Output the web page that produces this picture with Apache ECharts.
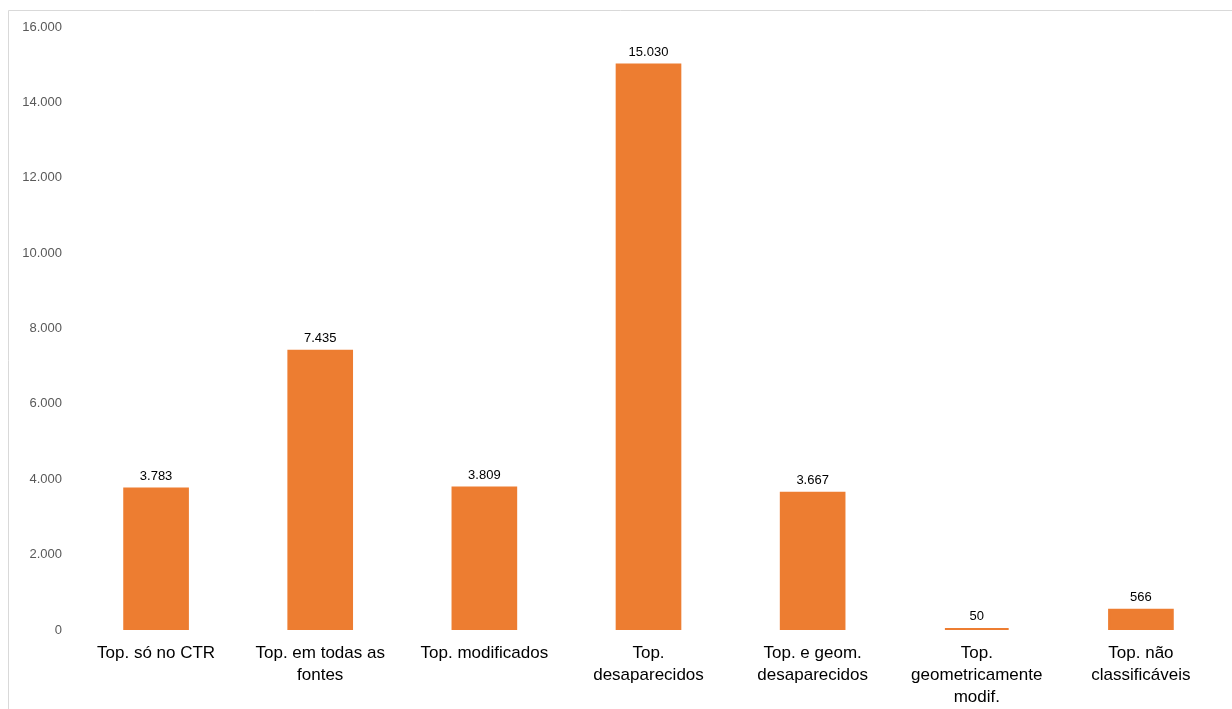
<!DOCTYPE html>
<html>
<head>
    <meta charset="utf-8">
    <title>Topónimos</title>
    <script src="https://cdn.jsdelivr.net/npm/echarts@6/dist/echarts.min.js"></script>
    <style>
        html, body { margin: 0; padding: 0; background: #fff; }
        #chart { width: 1232px; height: 709px; }
    </style>
</head>
<body>
<div id="chart"></div>
<script type="text/javascript">
    // categorias (eixo X)
    var categorias = [
        'Top. só no CTR',
        'Top. em todas as\nfontes',
        'Top. modificados',
        'Top.\ndesaparecidos',
        'Top. e geom.\ndesaparecidos',
        'Top.\ngeometricamente\nmodif.',
        'Top. não\nclassificáveis'
    ];
    // valores
    var valores = [3783, 7435, 3809, 15030, 3667, 50, 566];
    // eixo Y
    var yMin = 0, yMax = 16000, yPasso = 2000;

    function milhares(v) {
        return String(v).replace(/\B(?=(\d{3})+(?!\d))/g, '.');
    }

    var chart = echarts.init(document.getElementById('chart'));
    chart.setOption({
        animation: false,
        textStyle: { fontFamily: 'Liberation Sans, Arial, sans-serif' },
        graphic: [{
            type: 'rect',
            shape: { x: 8.5, y: 10.5, width: 1300, height: 800 },
            style: { fill: 'none', stroke: '#d9d9d9', lineWidth: 1 },
            silent: true
        }],
        grid: { left: 74, right: 9, top: 27, bottom: 79 },
        xAxis: {
            type: 'category',
            data: categorias,
            axisLine: { show: false },
            axisTick: { show: false },
            axisLabel: {
                interval: 0,
                color: '#000',
                fontSize: 17,
                lineHeight: 22,
                margin: 12
            }
        },
        yAxis: {
            type: 'value',
            min: yMin, max: yMax, interval: yPasso,
            axisLine: { show: false },
            axisTick: { show: false },
            splitLine: { show: false },
            axisLabel: {
                color: '#595959',
                fontSize: 13,
                margin: 12,
                formatter: milhares
            }
        },
        series: [{
            type: 'bar',
            data: valores,
            barWidth: '40%',
            itemStyle: { color: '#ED7D31', borderColor: '#ED7D31', borderWidth: 2 },
            label: {
                show: true,
                position: 'top',
                distance: 5,
                color: '#000',
                fontSize: 13,
                formatter: function (p) { return milhares(p.value); }
            }
        }]
    });
</script>
</body>
</html>
